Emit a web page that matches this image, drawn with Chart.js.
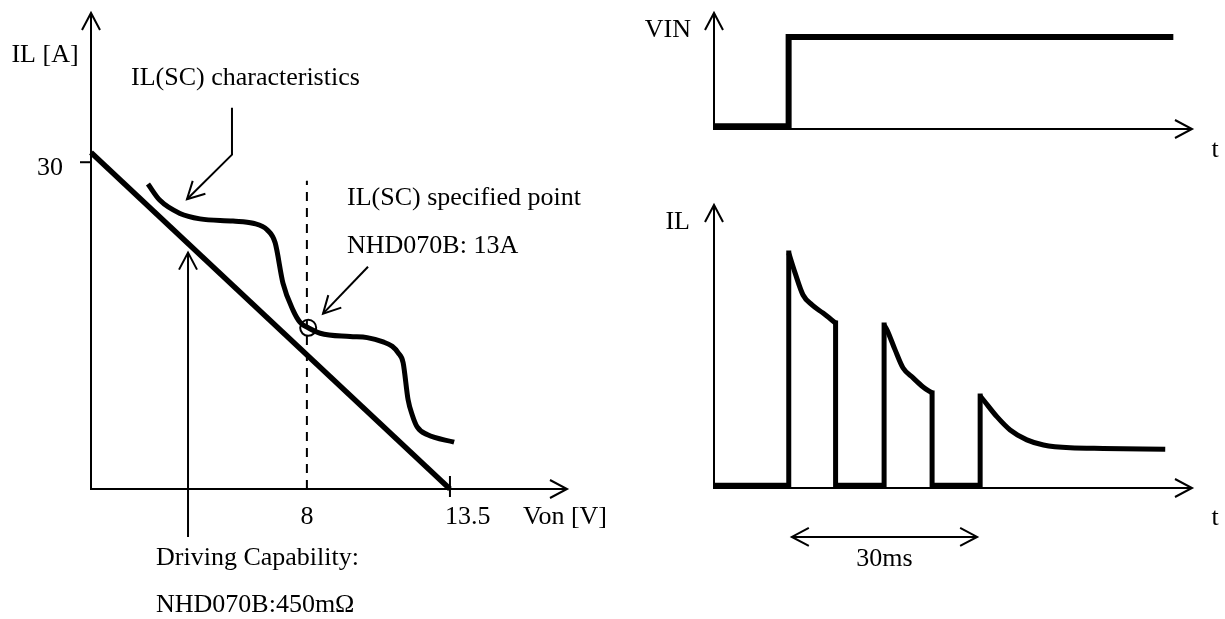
<!DOCTYPE html>
<html>
<head>
<meta charset="utf-8">
<script src="https://cdn.jsdelivr.net/npm/chart.js@4.4.1/dist/chart.umd.min.js"></script>
<style>
  body{margin:0;background:#fff;width:1225px;height:619px;position:relative;overflow:hidden}
  canvas{position:absolute}
</style>
</head>
<body>
<canvas id="cLeft" width="620" height="619" style="left:0;top:0"></canvas>
<canvas id="cVin" width="605" height="180" style="left:620px;top:0"></canvas>
<canvas id="cIl" width="605" height="439" style="left:620px;top:180px"></canvas>
<script>
// ===== DATA: left (Von [V] / IL [A]) =====
const VON_MIN = -0.3, VON_MAX = 18.0, IL_MAX = 43.7;
const VON_TICKS = [8, 13.5];
const IL_TICKS = [30];
const DRIVE_V = [-0.3, 13.5];
const DRIVE_A = [30.9, 0];
const SC_V = [1.89, 2.35, 3.12, 3.89, 5.16, 5.93, 6.47, 6.78, 7.08, 7.47, 7.74, 8.05, 8.51, 9.66, 10.32, 10.93, 11.28, 11.51, 11.7, 11.89, 12.05, 12.24, 12.62, 13.66];
const SC_A = [28.0, 26.5, 25.3, 24.8, 24.6, 24.4, 23.8, 22.6, 18.9, 16.4, 15.3, 14.8, 14.3, 14.0, 13.9, 13.5, 13.1, 12.5, 11.6, 8.2, 6.8, 5.7, 5.0, 4.3];
const SPEC_PT = [8.05, 14.8];
const SPEC_LINE_V = [8, 8];
const SPEC_LINE_A = [0, 28.3];
const CHAR_LEAD_V = [5.12, 5.12, 3.39];
const CHAR_LEAD_A = [35.0, 30.7, 26.6];
const SPEC_LEAD_V = [10.35, 8.62];
const SPEC_LEAD_A = [20.4, 16.1];
const DRIVE_LEAD_V = [3.43, 3.43];
const DRIVE_LEAD_A = [-4.4, 21.7];

// ===== DATA: right (t [ms]) =====
const T_MAX = 74.3;
const VIN_MAX = 1.26;
const VIN_T = [0, 11.6, 11.6, 71.4];
const VIN_V = [0.03, 0.03, 1, 1];
const IL2_MAX = 10;
const IL_LOW = 0.08;
const LOW_T = [[0, 11.6], [18.9, 26.44], [33.9, 41.37]];
const DECAY1_T = [11.62, 12.6, 13.84, 15.24, 16.95, 18.9];
const DECAY1_V = [8.30, 7.60, 6.82, 6.47, 6.18, 5.83];
const DECAY2_T = [26.44, 26.9, 28.15, 29.39, 30.95, 32.5, 33.9];
const DECAY2_V = [5.76, 5.58, 4.88, 4.24, 3.89, 3.57, 3.36];
const DECAY3_T = [41.37, 41.88, 43.97, 46.03, 48.63, 51.21, 55.37, 60.5, 70.14];
const DECAY3_V = [3.25, 3.11, 2.52, 2.05, 1.70, 1.52, 1.42, 1.40, 1.37];
const PERIOD_T = [12.1, 40.9];
const PERIOD_Y = [-1.73, -1.73];

// ===== HELPERS =====
const FONT = '26px "Liberation Serif", "Times New Roman", serif';
function zip(xs, ys){return xs.map((x,i)=>({x, y:ys[i]}));}
function ln(data, w, extra){
  return Object.assign({data, showLine:true, borderColor:'#000', borderWidth:w, pointRadius:0,
    tension:0, fill:false, clip:false}, extra||{});
}
function seg(ctx,x1,y1,x2,y2){ctx.beginPath();ctx.moveTo(x1,y1);ctx.lineTo(x2,y2);ctx.stroke();}
function head(ctx,fx,fy,tx,ty,len,half){
  len=len||17; half=half||9;
  const dx=tx-fx, dy=ty-fy, d=Math.hypot(dx,dy)||1, ux=dx/d, uy=dy/d;
  const bx=tx-ux*len, by=ty-uy*len;
  ctx.beginPath();
  ctx.moveTo(bx-uy*half, by+ux*half); ctx.lineTo(tx,ty); ctx.lineTo(bx+uy*half, by-ux*half);
  ctx.stroke();
}

// axes with arrows, ticks, arrowheads on leader datasets, texts
function overlay(cfg){
  return {
    id:'overlay',
    beforeDatasetsDraw(chart){
      const ctx=chart.ctx, a=chart.chartArea;
      ctx.save(); ctx.strokeStyle='#000'; ctx.lineWidth=2;
      seg(ctx,a.left,a.bottom+1,a.left,a.top); head(ctx,a.left,a.bottom,a.left,a.top);
      seg(ctx,a.left-1,a.bottom,a.right,a.bottom); head(ctx,a.left,a.bottom,a.right,a.bottom);
      if(cfg.ticks) cfg.ticks(ctx,a,chart.scales.x,chart.scales.y);
      ctx.restore();
    },
    afterDatasetsDraw(chart){
      const ctx=chart.ctx, a=chart.chartArea, xs=chart.scales.x, ys=chart.scales.y;
      ctx.save(); ctx.strokeStyle='#000'; ctx.lineWidth=2; ctx.lineJoin='miter';
      chart.data.datasets.forEach((ds,i)=>{
        if(!ds.arrow) return;
        const p=chart.getDatasetMeta(i).data, n=p.length;
        head(ctx,p[n-2].x,p[n-2].y,p[n-1].x,p[n-1].y);
        if(ds.arrow==='both') head(ctx,p[1].x,p[1].y,p[0].x,p[0].y);
      });
      ctx.fillStyle='#000'; ctx.font=FONT; ctx.textBaseline='alphabetic';
      cfg.texts(a,xs,ys).forEach(([s,al,x,y])=>{ctx.textAlign=al;ctx.fillText(s,x,y);});
      ctx.restore();
    }
  };
}

const base = (xmin,xmax,ymin,ymax,pad)=>({
  responsive:false, animation:false, events:[],
  layout:{padding:pad},
  plugins:{legend:{display:false},tooltip:{enabled:false}},
  scales:{
    x:{type:'linear',display:false,min:xmin,max:xmax},
    y:{type:'linear',display:false,min:ymin,max:ymax}
  }
});

// ===== LEFT: IL(SC) vs Von =====
new Chart(document.getElementById('cLeft'),{
  type:'scatter',
  data:{datasets:[
    ln(zip(SPEC_LINE_V,SPEC_LINE_A),2,{borderDash:[9,7]}),
    ln(zip(DRIVE_V,DRIVE_A),5.5),
    ln(zip(SC_V,SC_A),5,{cubicInterpolationMode:'monotone'}),
    {data:[{x:SPEC_PT[0],y:SPEC_PT[1]}],showLine:false,pointRadius:8,pointBorderWidth:2,
     pointBorderColor:'#000',pointBackgroundColor:'rgba(0,0,0,0)',clip:false},
    ln(zip(CHAR_LEAD_V,CHAR_LEAD_A),2,{arrow:'end'}),
    ln(zip(SPEC_LEAD_V,SPEC_LEAD_A),2,{arrow:'end'}),
    ln(zip(DRIVE_LEAD_V,DRIVE_LEAD_A),2,{arrow:'end'})
  ]},
  options:base(VON_MIN,VON_MAX,0,IL_MAX,{left:91,top:13,right:53,bottom:130}),
  plugins:[overlay({
    ticks:(ctx,a,xs,ys)=>{
      IL_TICKS.forEach(v=>seg(ctx,a.left-11,ys.getPixelForValue(v),a.left,ys.getPixelForValue(v)));
      seg(ctx,xs.getPixelForValue(VON_TICKS[1]),a.bottom-13,xs.getPixelForValue(VON_TICKS[1]),a.bottom+8);
    },
    texts:(a,xs,ys)=>[
      ['IL [A]','center',a.left-46,a.top+49],
      [String(IL_TICKS[0]),'right',a.left-28,ys.getPixelForValue(IL_TICKS[0])+13],
      ['IL(SC) characteristics','left',a.left+40,a.top+72],
      ['IL(SC) specified point','left',a.left+256,a.top+192],
      ['NHD070B: 13A','left',a.left+256,a.top+240],
      [String(VON_TICKS[0]),'center',xs.getPixelForValue(VON_TICKS[0]),a.bottom+35],
      [String(VON_TICKS[1]),'left',xs.getPixelForValue(VON_TICKS[1])-5,a.bottom+35],
      ['Von [V]','left',a.left+432,a.bottom+35],
      ['Driving Capability:','left',a.left+65,a.bottom+76],
      ['NHD070B:450m\u03A9','left',a.left+65,a.bottom+123]
    ]
  })]
});

// ===== RIGHT TOP: VIN =====
new Chart(document.getElementById('cVin'),{
  type:'scatter',
  data:{datasets:[ln(zip(VIN_T,VIN_V),6)]},
  options:base(0,T_MAX,0,VIN_MAX,{left:94,top:13,right:33,bottom:51}),
  plugins:[overlay({
    texts:(a)=>[
      ['VIN','right',a.left-23,a.top+24],
      ['t','center',a.right+23,a.bottom+28]
    ]
  })]
});

// ===== RIGHT BOTTOM: IL =====
const decays = [[DECAY1_T,DECAY1_V],[DECAY2_T,DECAY2_V],[DECAY3_T,DECAY3_V]];
const edges = [];
decays.forEach(([t,v],i)=>{
  edges.push(ln([{x:t[0],y:IL_LOW},{x:t[0],y:v[0]}],5,{borderCapStyle:'square'}));
  if(i<decays.length-1){
    const n=t.length-1;
    edges.push(ln([{x:t[n],y:v[n]},{x:t[n],y:IL_LOW}],5,{borderCapStyle:'square'}));
  }
});
new Chart(document.getElementById('cIl'),{
  type:'scatter',
  data:{datasets:[
    ...LOW_T.map(t=>ln(zip(t,[IL_LOW,IL_LOW]),6)),
    ...edges,
    ...decays.map(([t,v])=>ln(zip(t,v),5,{cubicInterpolationMode:'monotone'})),
    ln(zip(PERIOD_T,PERIOD_Y),2,{arrow:'both'})
  ]},
  options:base(0,T_MAX,0,IL2_MAX,{left:94,top:25,right:33,bottom:131}),
  plugins:[overlay({
    texts:(a,xs)=>[
      ['IL','right',a.left-24,a.top+24],
      ['t','center',a.right+23,a.bottom+37],
      ['30ms','center',(xs.getPixelForValue(PERIOD_T[0])+xs.getPixelForValue(PERIOD_T[1]))/2,a.bottom+78]
    ]
  })]
});
</script>
</body>
</html>
